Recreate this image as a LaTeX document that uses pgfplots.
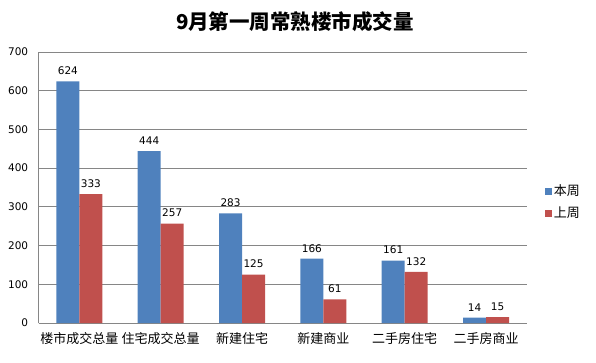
\documentclass[border=0pt]{standalone}
\usepackage{pgfplots}
\pgfplotsset{compat=1.18}
\usepackage{fontspec}
\setmainfont{DejaVu Sans}
\newfontfamily\cjk{Noto Sans CJK SC}
\definecolor{cblue}{RGB}{79,129,189}
\definecolor{cred}{RGB}{192,80,77}
\definecolor{cgrid}{RGB}{134,134,134}
\begin{document}
\begin{tikzpicture}[x=1pt,y=1pt]
\useasboundingbox (0,0) rectangle (596,362);
\node[font=\cjk\bfseries\fontsize{20.5}{24}\selectfont] at (295,340) {9月第一周常熟楼市成交量};
\begin{axis}[
  at={(38.7pt,39pt)}, anchor=south west,
  scale only axis, width=488pt, height=271pt,
  ybar=0pt, bar width=23pt,
  xmin=-0.5, xmax=5.5, ymin=0, ymax=700,
  ytick={0,100,...,700},
  xtick={0,1,2,3,4,5},
  xticklabels={楼市成交总量,住宅成交总量,新建住宅,新建商业,二手房住宅,二手房商业},
  xticklabel style={font=\cjk\fontsize{13}{15}\selectfont, yshift=-6pt},
  yticklabel style={font=\fontsize{10.5}{12}\selectfont, xshift=-7pt},
  /pgf/number format/assume math mode=true,
  major tick length=0pt,
  ymajorgrids, grid style={cgrid, line width=0.9pt},
  axis line style={cgrid, line width=0.9pt},
  axis x line*=bottom, axis y line*=left,
  nodes near coords,
  every node near coord/.append style={font=\fontsize{10.5}{12}\selectfont, black, yshift=3pt},
  legend style={at={(1.037,0.446)}, anchor=west, draw=none, fill=none,
    font=\cjk\fontsize{13}{15}\selectfont, row sep=6pt, inner sep=0pt},
  legend cell align=left,
  legend image code/.code={\fill[#1] (0pt,-3.5pt) rectangle (7pt,3.5pt);},
]
\addplot[fill=cblue, draw=none] coordinates {(0,624) (1,444) (2,283) (3,166) (4,161) (5,14)};
\addplot[fill=cred, draw=none] coordinates {(0,333) (1,257) (2,125) (3,61) (4,132) (5,15)};
\legend{本周,上周}
\end{axis}
\end{tikzpicture}
\end{document}
